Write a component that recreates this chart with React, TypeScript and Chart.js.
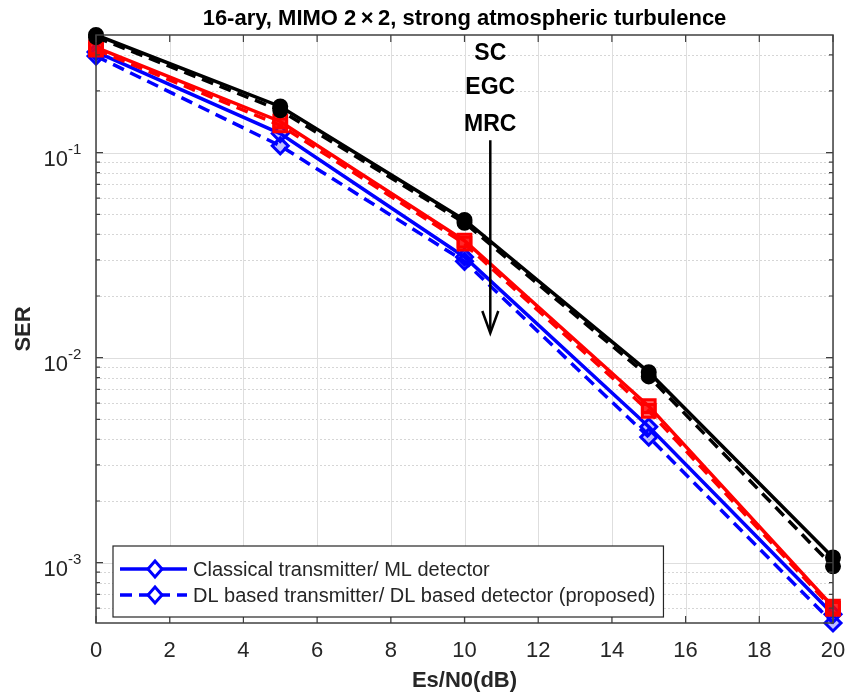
import React, { useEffect, useRef } from "react";
import { Chart, registerables } from "chart.js";

Chart.register(...registerables);

// ---- data ----
const snrDb = [0, 5, 10, 15, 20];
const scSolid = [0.375, 0.168, 0.047, 0.0085, 0.00106];
const scDashed = [0.366, 0.161, 0.0455, 0.0081, 0.00096];
const egcSolid = [0.326, 0.142, 0.0372, 0.0058, 0.00061];
const egcDashed = [0.318, 0.136, 0.036, 0.0055, 0.000595];
const mrcSolid = [0.31, 0.124, 0.031, 0.0046, 0.00056];
const mrcDashed = [0.296, 0.108, 0.0295, 0.0041, 0.000508];

const xTicks = [0, 2, 4, 6, 8, 10, 12, 14, 16, 18, 20];
const yDecades = [-3, -2, -1];
const titleText = "16-ary, MIMO 2\u2009\u00D7\u20092, strong atmospheric turbulence";
const xTitle = "Es/N0(dB)";
const yTitle = "SER";
const legendLabels = [
  "Classical transmitter/ ML detector",
  "DL based transmitter/ DL based detector (proposed)",
];
const schemeLabels = ["SC", "EGC", "MRC"];
const schemeLabelY = [0.305, 0.207, 0.137];
const arrowX = 10.7;
const arrowFromY = 0.115;
const arrowToY = 0.0132;

const BLUE = "#0000ff";
const RED = "#ff0000";
const BLACK = "#000000";
const TXT = "#262626";
const FONT = "'Liberation Sans', Arial, Helvetica, sans-serif";

const yMin = Math.min(...mrcDashed);
const yMax = Math.max(...scSolid);

function series(
  label: string,
  vals: number[],
  color: string,
  dashed: boolean,
  style: string,
  fill: string,
  radius: number
) {
  return {
    label,
    data: snrDb.map((s, i) => ({ x: s, y: vals[i] })),
    borderColor: color,
    backgroundColor: fill,
    borderWidth: 3.5,
    borderDash: dashed ? [12, 7] : [],
    pointStyle: style,
    pointRadius: radius,
    pointBorderColor: color,
    pointBackgroundColor: fill,
    pointBorderWidth: 3,
    clip: false,
    tension: 0,
    fill: false,
  };
}

const matlabPlugin = {
  id: "matlabLook",
  beforeDatasetsDraw(chart: any) {
    const { ctx, chartArea: a, scales } = chart;
    const x = scales.x;
    const y = scales.y;
    ctx.save();
    // minor y grid (dotted)
    ctx.lineWidth = 1;
    ctx.strokeStyle = "#d6d6d6";
    ctx.setLineDash([2, 2]);
    for (let e = -4; e <= 0; e++) {
      for (let k = 2; k <= 9; k++) {
        const v = k * Math.pow(10, e);
        if (v <= y.min || v >= y.max) continue;
        const py = Math.round(y.getPixelForValue(v)) + 0.5;
        ctx.beginPath();
        ctx.moveTo(a.left, py);
        ctx.lineTo(a.right, py);
        ctx.stroke();
      }
    }
    ctx.setLineDash([]);
    ctx.strokeStyle = "#dedede";
    for (const d of yDecades) {
      const py = Math.round(y.getPixelForValue(Math.pow(10, d))) + 0.5;
      ctx.beginPath();
      ctx.moveTo(a.left, py);
      ctx.lineTo(a.right, py);
      ctx.stroke();
    }
    for (const t of xTicks) {
      const px = Math.round(x.getPixelForValue(t)) + 0.5;
      ctx.beginPath();
      ctx.moveTo(px, a.top);
      ctx.lineTo(px, a.bottom);
      ctx.stroke();
    }
    ctx.restore();
  },
  afterDatasetsDraw(chart: any) {
    const { ctx, chartArea: a, scales } = chart;
    const x = scales.x;
    const y = scales.y;
    ctx.save();

    // axes box
    ctx.strokeStyle = "#404040";
    ctx.lineWidth = 1.5;
    ctx.strokeRect(a.left, a.top, a.right - a.left, a.bottom - a.top);

    // ticks (inward)
    ctx.lineWidth = 1.2;
    ctx.strokeStyle = "#404040";
    for (const t of xTicks) {
      const px = x.getPixelForValue(t);
      ctx.beginPath();
      ctx.moveTo(px, a.bottom);
      ctx.lineTo(px, a.bottom - 7);
      ctx.moveTo(px, a.top);
      ctx.lineTo(px, a.top + 7);
      ctx.stroke();
    }
    for (let e = -4; e <= 0; e++) {
      for (let k = 1; k <= 9; k++) {
        const v = k * Math.pow(10, e);
        if (v < y.min || v > y.max) continue;
        const py = y.getPixelForValue(v);
        const len = k === 1 ? 7 : 4;
        ctx.beginPath();
        ctx.moveTo(a.left, py);
        ctx.lineTo(a.left + len, py);
        ctx.moveTo(a.right, py);
        ctx.lineTo(a.right - len, py);
        ctx.stroke();
      }
    }

    // x tick labels
    ctx.fillStyle = TXT;
    ctx.font = `22px ${FONT}`;
    ctx.textAlign = "center";
    ctx.textBaseline = "middle";
    for (const t of xTicks) {
      ctx.fillText(String(t), x.getPixelForValue(t), a.bottom + 28);
    }

    // y tick labels 10^d
    for (const d of yDecades) {
      const py = y.getPixelForValue(Math.pow(10, d));
      ctx.font = `22px ${FONT}`;
      ctx.textAlign = "right";
      ctx.textBaseline = "middle";
      ctx.fillText("10", a.left - 28, py + 7);
      ctx.font = `15px ${FONT}`;
      ctx.textAlign = "left";
      ctx.fillText(String(d), a.left - 28, py - 3);
    }

    // axis titles
    ctx.font = `bold 22px ${FONT}`;
    ctx.textAlign = "center";
    ctx.textBaseline = "middle";
    ctx.fillText(xTitle, (a.left + a.right) / 2, a.bottom + 58);
    ctx.save();
    ctx.translate(a.left - 72, (a.top + a.bottom) / 2);
    ctx.rotate(-Math.PI / 2);
    ctx.fillText(yTitle, 0, 0);
    ctx.restore();

    // title
    ctx.fillStyle = "#000";
    ctx.font = `bold 22px ${FONT}`;
    ctx.fillText(titleText, (a.left + a.right) / 2, a.top - 16);

    // annotation
    const ax = x.getPixelForValue(arrowX);
    ctx.font = `bold 23px ${FONT}`;
    schemeLabels.forEach((s, i) => {
      ctx.fillText(s, ax, y.getPixelForValue(schemeLabelY[i]));
    });
    const y0 = y.getPixelForValue(arrowFromY);
    const y1 = y.getPixelForValue(arrowToY);
    ctx.strokeStyle = "#000";
    ctx.lineWidth = 2.5;
    ctx.beginPath();
    ctx.moveTo(ax, y0);
    ctx.lineTo(ax, y1 - 4);
    ctx.stroke();
    ctx.beginPath();
    ctx.moveTo(ax - 8, y1 - 22);
    ctx.lineTo(ax, y1);
    ctx.lineTo(ax + 8, y1 - 22);
    ctx.stroke();

    // legend
    ctx.font = `20px ${FONT}`;
    const textW = Math.max(...legendLabels.map((l) => ctx.measureText(l).width));
    const lx = a.left + 17;
    const lb = a.bottom - 6;
    const lt = a.bottom - 77;
    const lw = 80 + textW + 8;
    ctx.fillStyle = "#fff";
    ctx.fillRect(lx, lt, lw, lb - lt);
    ctx.strokeStyle = "#262626";
    ctx.lineWidth = 1.2;
    ctx.strokeRect(lx, lt, lw, lb - lt);
    const rows = [lt + 23, lt + 49];
    legendLabels.forEach((lab, i) => {
      const ry = rows[i];
      ctx.strokeStyle = BLUE;
      ctx.lineWidth = 3.5;
      ctx.setLineDash(i === 1 ? [12, 7] : []);
      ctx.beginPath();
      ctx.moveTo(lx + 7, ry);
      ctx.lineTo(lx + 74, ry);
      ctx.stroke();
      ctx.setLineDash([]);
      ctx.lineWidth = 3;
      const mx = lx + 42;
      ctx.beginPath();
      ctx.moveTo(mx, ry - 8);
      ctx.lineTo(mx + 7, ry);
      ctx.lineTo(mx, ry + 8);
      ctx.lineTo(mx - 7, ry);
      ctx.closePath();
      ctx.fillStyle = "#fff";
      ctx.fill();
      ctx.stroke();
      ctx.fillStyle = TXT;
      ctx.textAlign = "left";
      ctx.textBaseline = "middle";
      ctx.fillText(lab, lx + 80, ry + 1);
    });

    ctx.restore();
  },
};

export default function App() {
  const ref = useRef<HTMLCanvasElement | null>(null);
  useEffect(() => {
    if (!ref.current) return;
    const chart = new Chart(ref.current, {
      type: "line",
      data: {
        datasets: [
          series("SC classical", scSolid, BLACK, false, "circle", BLACK, 6.5),
          series("SC DL", scDashed, BLACK, true, "circle", BLACK, 6.5),
          series("EGC classical", egcSolid, RED, false, "rect", "rgba(255,0,0,0.6)", 9),
          series("EGC DL", egcDashed, RED, true, "rect", "rgba(255,0,0,0.6)", 9),
          series("MRC classical", mrcSolid, BLUE, false, "rectRot", "rgba(0,0,255,0.25)", 8),
          series("MRC DL", mrcDashed, BLUE, true, "rectRot", "rgba(0,0,255,0.25)", 8),
        ] as any,
      },
      options: {
        responsive: false,
        animation: false,
        devicePixelRatio: 1,
        events: [],
        layout: { padding: { left: 96, right: 29, top: 35, bottom: 73 } },
        scales: {
          x: { type: "linear", min: 0, max: 20, display: false },
          y: { type: "logarithmic", min: yMin, max: yMax, display: false },
        },
        plugins: {
          legend: { display: false },
          tooltip: { enabled: false },
          title: { display: false },
        },
      } as any,
      plugins: [matlabPlugin],
    });
    return () => chart.destroy();
  }, []);
  return (
    <div style={{ position: "fixed", left: 0, top: 0, width: 862, height: 696, background: "#fff" }}>
      <canvas ref={ref} width={862} height={696} style={{ display: "block" }} />
    </div>
  );
}
